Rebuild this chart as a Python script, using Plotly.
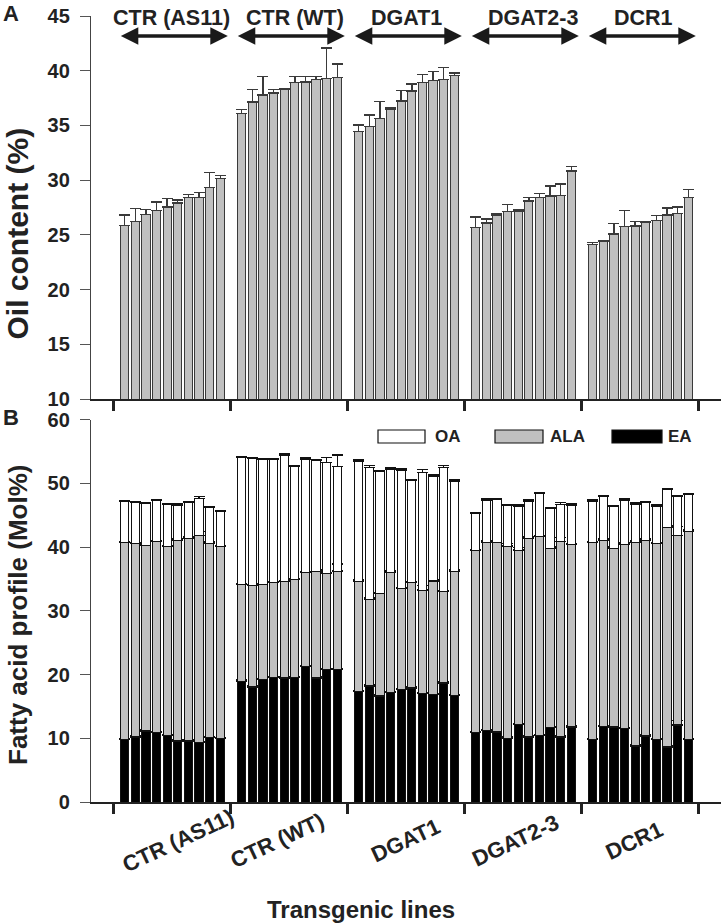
import plotly.graph_objects as go

# ---------------- data ----------------
groups = ["CTR (AS11)", "CTR (WT)", "DGAT1", "DGAT2-3", "DCR1"]

oil = [
    [25.84, 26.24, 26.88, 27.24, 27.55, 27.91, 28.43, 28.43, 29.31, 30.17],
    [36.11, 37.14, 37.78, 37.96, 38.30, 38.94, 38.97, 39.21, 39.27, 39.36],
    [34.46, 34.89, 35.65, 36.50, 37.23, 38.15, 38.94, 39.12, 39.21, 39.54],
    [25.65, 26.08, 26.81, 27.15, 27.18, 28.09, 28.43, 28.55, 28.61, 30.84],
    [24.14, 24.44, 25.08, 25.75, 25.81, 26.14, 26.29, 26.81, 26.97, 28.43],
]
oil_err = [
    [0.97, 1.19, 0.45, 0.76, 0.79, 0.27, 0.24, 0.42, 1.37, 0.24],
    [0.36, 1.13, 1.71, 0.30, 0.05, 0.51, 0.48, 0.24, 2.81, 1.25],
    [0.58, 1.06, 1.52, 0.12, 0.94, 0.64, 0.70, 0.79, 1.10, 0.25],
    [1.00, 0.37, 0.12, 0.61, 0.12, 0.34, 0.33, 0.91, 1.04, 0.42],
    [0.18, 0.06, 0.94, 1.50, 0.43, 0.10, 0.49, 0.64, 0.58, 0.70],
]

ea = [
    [9.84, 10.20, 11.15, 10.89, 10.47, 9.58, 9.58, 9.32, 10.16, 10.00],
    [18.95, 18.05, 19.26, 19.53, 19.47, 19.53, 21.30, 19.47, 20.78, 20.78],
    [17.38, 18.21, 16.64, 17.17, 17.61, 17.90, 17.02, 16.86, 18.68, 16.75],
    [10.89, 11.21, 10.99, 10.00, 12.15, 10.20, 10.47, 11.68, 10.20, 11.77],
    [9.79, 11.88, 11.77, 11.57, 8.79, 10.36, 9.79, 8.63, 12.09, 9.79],
]
ala = [
    [30.82, 30.41, 29.15, 29.93, 29.56, 31.46, 31.77, 32.44, 30.45, 30.03],
    [15.18, 15.92, 14.87, 14.91, 15.18, 15.38, 14.71, 16.75, 15.01, 15.44],
    [17.27, 13.61, 16.07, 18.89, 15.89, 16.48, 16.22, 17.83, 14.29, 19.47],
    [28.51, 29.51, 29.67, 30.14, 27.36, 31.15, 31.13, 28.10, 30.62, 28.64],
    [30.87, 29.20, 28.01, 28.89, 31.98, 30.72, 30.77, 34.45, 29.67, 32.71],
]
oa = [
    [6.44, 6.39, 6.54, 6.43, 6.66, 5.54, 5.59, 5.87, 5.61, 5.56],
    [19.93, 19.88, 19.56, 19.30, 19.77, 17.68, 17.79, 17.31, 17.43, 16.37],
    [18.84, 20.62, 19.10, 16.17, 18.57, 16.01, 18.47, 16.44, 19.52, 14.13],
    [5.81, 6.64, 6.75, 6.33, 6.91, 5.86, 6.75, 6.22, 5.87, 6.12],
    [6.55, 6.80, 6.53, 6.85, 5.96, 5.86, 5.86, 5.90, 6.12, 5.76],
]
ea_err = [
    [0.15, 0.15, 0.15, 0.15, 0.15, 0.15, 0.15, 0.15, 0.15, 0.15],
    [0.20, 0.15, 0.15, 0.15, 0.15, 0.15, 0.15, 0.15, 0.15, 0.15],
    [0.15, 0.15, 0.15, 0.15, 0.15, 0.15, 0.15, 0.15, 0.20, 0.15],
    [0.15, 0.15, 0.20, 0.20, 0.15, 0.15, 0.15, 0.15, 0.15, 0.15],
    [0.15, 0.15, 0.15, 0.15, 0.15, 0.15, 0.15, 0.15, 0.73, 0.15],
]
ala_err = [
    [0.15, 0.15, 0.15, 0.20, 0.15, 0.20, 0.20, 0.68, 0.20, 0.20],
    [0.15, 0.15, 0.15, 0.15, 0.15, 0.15, 0.20, 0.20, 0.15, 1.10],
    [0.16, 0.20, 0.20, 0.20, 0.20, 0.20, 0.68, 0.20, 0.26, 0.20],
    [0.20, 0.20, 0.15, 0.37, 0.42, 0.20, 0.20, 0.20, 0.63, 0.15],
    [0.15, 0.20, 0.20, 0.15, 0.15, 0.20, 0.15, 0.20, 1.50, 0.20],
]
oa_err = [
    [0.15, 0.15, 0.15, 0.25, 0.15, 0.15, 0.15, 0.25, 0.15, 0.15],
    [0.15, 0.15, 0.15, 0.15, 0.15, 0.20, 0.20, 0.15, 0.78, 1.83],
    [0.15, 0.30, 0.15, 0.20, 0.15, 0.15, 0.47, 0.15, 0.26, 0.15],
    [0.15, 0.20, 0.15, 0.20, 0.20, 0.20, 0.15, 0.20, 0.30, 0.20],
    [0.15, 0.20, 0.15, 0.20, 0.15, 0.20, 0.15, 0.15, 0.20, 0.15],
]

panel_a_ticks = [10, 15, 20, 25, 30, 35, 40, 45]
panel_b_ticks = [0, 10, 20, 30, 40, 50, 60]
legend_names = ["OA", "ALA", "EA"]

# ---------------- layout helpers ----------------
PLOT_L, PLOT_R, PLOT_T, PLOT_B = 91, 721, 16, 802   # window pixels
W, H = 723, 924
ML, MT = PLOT_L, PLOT_T
MR = W - PLOT_R
MB = H - PLOT_B
STEP = 11  # bar slots per group (10 bars + 1 gap)
FONT = "Liberation Sans, Arial, sans-serif"


def px_x(px):
    return (px - PLOT_L) / (PLOT_R - PLOT_L)


def px_y(py):
    return (PLOT_B - py) / (PLOT_B - PLOT_T)


xs = [g * STEP + i for g in range(len(groups)) for i in range(len(oil[g]))]
flat = lambda arr: [v for row in arr for v in row]
zeros = [0] * len(xs)

fig = go.Figure()

# Panel A
fig.add_trace(go.Bar(
    x=xs, y=flat(oil), width=0.78, xaxis="x", yaxis="y",
    marker=dict(color="#c0c0c0", line=dict(color="#3a3a3a", width=1)),
    error_y=dict(type="data", symmetric=False, array=flat(oil_err), arrayminus=zeros,
                 color="#3a3a3a", thickness=1.4, width=5.5),
    showlegend=False, name="Oil",
))

# Panel B stacked
for vals, errs, col in [(ea, ea_err, "#000000"), (ala, ala_err, "#c0c0c0"), (oa, oa_err, "#ffffff")]:
    fig.add_trace(go.Bar(
        x=xs, y=flat(vals), width=0.78, xaxis="x2", yaxis="y2",
        marker=dict(color=col, line=dict(color="#111111", width=1)),
        error_y=dict(type="data", symmetric=False, array=flat(errs), arrayminus=zeros,
                     color="#111111", thickness=1.3, width=5.5),
        showlegend=False,
    ))

xr = [-3.16, 56.07]
bounds = [g * STEP - 1 for g in range(len(groups) + 1)]
xaxis_common = dict(
    range=xr, showline=True, linecolor="#222", linewidth=1.5, zeroline=False,
    showgrid=False, tickmode="array", tickvals=bounds, ticktext=[""] * len(bounds),
    ticks="outside", ticklen=10, tickwidth=3, tickcolor="#222",
)
yaxis_common = dict(
    showline=True, linecolor="#444", linewidth=1.3, zeroline=False, showgrid=False,
    ticks="outside", ticklen=10, tickwidth=1.3, tickcolor="#555",
    tickfont=dict(family=FONT, size=20, color="#222", weight="bold"),
    ticklabelstandoff=6,
)

fig.update_layout(
    width=W, height=H, margin=dict(l=ML, r=MR, t=MT, b=MB, pad=0),
    paper_bgcolor="white", plot_bgcolor="white", barmode="stack",
    xaxis=dict(domain=[0, 1], anchor="y", **xaxis_common),
    yaxis=dict(domain=[px_y(399), 1], anchor="x", range=[10, 45],
               tickvals=panel_a_ticks, **yaxis_common),
    xaxis2=dict(domain=[0, 1], anchor="y2", **xaxis_common),
    yaxis2=dict(domain=[0, px_y(419.5)], anchor="x2", range=[0, 60],
                tickvals=panel_b_ticks, **yaxis_common),
)

top_shift = [-1, 6, 0, 10, 3]
bot_shift = [6, -12, -1, -8, -6]

ann = []
for g, name in enumerate(groups):
    c = g * STEP + 4.5
    ann.append(dict(x=c, y=px_y(18), xref="x", yref="paper", text=name, showarrow=False,
                    xanchor="center", yanchor="middle", xshift=top_shift[g],
                    font=dict(family=FONT, size=21.5, color="#222", weight="bold")))
    ann.append(dict(x=g * STEP + 9.7, y=43.17, ax=g * STEP - 0.5, ay=43.17,
                    xref="x", yref="y", axref="x", ayref="y", text="", showarrow=True,
                    arrowside="end+start", arrowhead=2, arrowsize=1, arrowwidth=3.5,
                    arrowcolor="#1a1a1a"))
    ann.append(dict(x=c, y=px_y(840), xref="x2", yref="paper", text=name, showarrow=False,
                    textangle=-25, xshift=bot_shift[g], xanchor="center", yanchor="middle",
                    font=dict(family=FONT, size=22, color="#222", weight="bold")))


def txt(px, py, text, size, angle=0):
    return dict(x=px_x(px), y=px_y(py), xref="paper", yref="paper", text=text,
                textangle=angle, showarrow=False, xanchor="center", yanchor="middle",
                font=dict(family=FONT, size=size, color="#222", weight="bold"))


ann.append(txt(17.5, 234, "Oil content (%)", 30, -90))
ann.append(txt(18, 615, "Fatty acid profile (Mol%)", 26, -90))
ann.append(txt(361, 909, "Transgenic lines", 24))
ann.append(txt(11, 13, "A", 22))
ann.append(txt(11, 417, "B", 22))

# legend (drawn manually)
shapes = []
leg_boxes = [(378, 425, "#ffffff"), (495, 543, "#c0c0c0"), (612, 662, "#000000")]
leg_text_x = [433, 548, 666]
ly0, ly1 = 430, 443
for (x0, x1, col), tx, name in zip(leg_boxes, leg_text_x, legend_names):
    shapes.append(dict(type="rect", xref="paper", yref="paper", x0=px_x(x0), x1=px_x(x1),
                       y0=px_y(ly1), y1=px_y(ly0), fillcolor=col,
                       line=dict(color="#111", width=1.2)))
    ann.append(dict(x=px_x(tx), y=px_y((ly0 + ly1) / 2), xref="paper", yref="paper", text=name,
                    showarrow=False, xanchor="left", yanchor="middle",
                    font=dict(family=FONT, size=17, color="#222", weight="bold")))

fig.update_layout(annotations=ann, shapes=shapes)
# remove the default 8px page margin so the 723x924 figure fills the window exactly
fig.write_html("out.html", config={"displayModeBar": False},
               post_script="document.body.style.margin='0px';")
